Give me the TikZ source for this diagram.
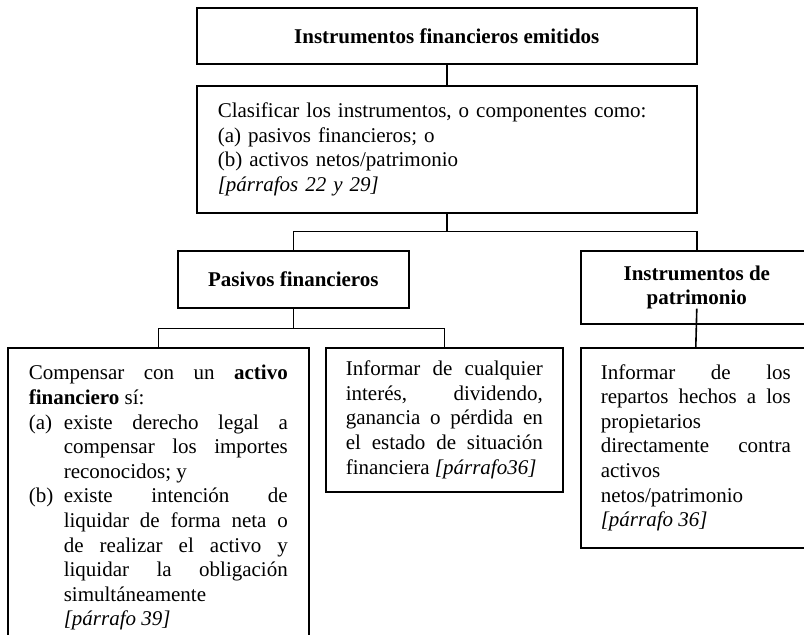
\documentclass[tikz,border=0pt]{standalone}
\usepackage{fontspec}
\setmainfont{Liberation Serif}
\setlength{\parindent}{0pt}
\newcommand{\listitem}[2]{\makebox[35pt][l]{#1}\parbox[t]{224pt}{\fontsize{21}{24.6}\selectfont\setlength{\parindent}{0pt}#2}\par\prevdepth=4.6pt}

\begin{document}
\begin{tikzpicture}[x=1pt,y=-1pt,line width=1.6pt,
  box/.style={draw,anchor=north west,inner sep=0pt,font=\fontsize{21}{24.6}\selectfont},
  headbox/.style={box,font=\fontsize{21}{24.6}\selectfont\bfseries,align=center},
  textbox/.style={box,align=justify,inner xsep=20pt}]
  \useasboundingbox (0,0) rectangle (804,635);
  % first two levels
  \node[headbox,minimum width=500pt,minimum height=56pt] (emit) at (196,7) {Instrumentos financieros emitidos};
  \node[box,align=left,text width=458pt,inner xsep=21pt,minimum height=127pt] (clas) at (196,85)
    {Clasificar los instrumentos, o componentes como:\\ (a) pasivos financieros; o\\ (b) activos netos/patrimonio\\ \textit{[párrafos 22 y 29]}};
  \node[headbox,minimum width=231pt,minimum height=57pt] (pas) at (177,250) {Pasivos financieros};
  \node[headbox,minimum width=232pt,minimum height=73pt] (patr) at (580,250) {Instrumentos de\\ patrimonio};
  % bottom row
  \node[textbox,text width=259pt,inner xsep=21pt,minimum height=300pt] (comp) at (7,347)
    {Compensar con un \textbf{activo}\linebreak \textbf{financiero} sí:\par
     \listitem{(a)}{existe derecho legal a\linebreak compensar los importes\linebreak reconocidos; y}
     \listitem{(b)}{existe intención de\linebreak liquidar de forma neta o\linebreak de realizar el activo y\linebreak liquidar la obligación\linebreak simultáneamente\newline \textit{[párrafo 39]}}};
  \node[textbox,text width=197pt,minimum height=144pt] (inf) at (325,347)
    {Informar de cualquier\linebreak interés, dividendo,\linebreak ganancia o pérdida en\linebreak el estado de situación\linebreak financiera \textit{[párrafo36]}};
  \node[textbox,text width=190pt,minimum height=200pt] (rep) at (580,347)
    {Informar de los\linebreak repartos hechos a los\linebreak propietarios\newline directamente contra\linebreak activos\newline netos/patrimonio\newline \textit{[párrafo 36]}};
  % connectors
  \draw (emit.south) -- (clas.north);
  \draw (clas.south) -- ++(0,18) coordinate (split1) -| (pas.north);
  \draw (split1) -| (patr.north);
  \draw (pas.south) -- ++(0,20) coordinate (split2) -| (comp.north);
  \draw (split2) -| (inf.north);
  \draw ([yshift=16pt]patr.south) -- (rep.north);
\end{tikzpicture}
\end{document}
